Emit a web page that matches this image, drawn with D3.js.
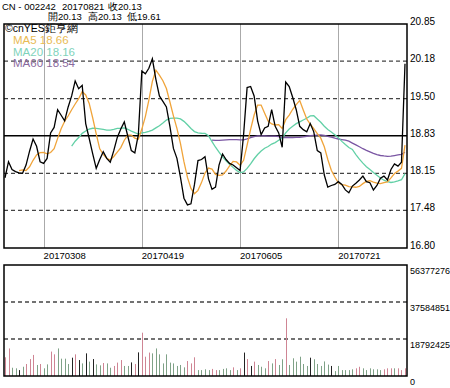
<!DOCTYPE html>
<html>
<head>
<meta charset="utf-8">
<script src="https://cdnjs.cloudflare.com/ajax/libs/d3/7.8.5/d3.min.js"></script>
<style>
body { margin: 0; background: #fff; }
svg { display: block; font-family: Arial, "Liberation Sans", sans-serif; }
</style>
</head>
<body>
<div id="chart"></div>
<script>
// daily closes (115 trading days ending 20170821)
var closes = [
  18.07, 18.36, 18.22, 18.18, 18.16, 18.15, 18.30, 18.55, 18.77, 18.64,
  18.36, 18.33, 18.42, 18.88, 18.98, 19.30, 19.20, 19.10, 19.35, 19.55,
  19.82, 19.68, 19.74, 19.05, 18.78, 18.50, 18.24, 18.40, 18.54, 18.42,
  18.35, 18.56, 18.80, 18.95, 19.08, 18.82, 18.56, 18.52, 18.85, 20.00,
  19.95, 20.05, 20.22, 19.85, 19.55, 19.45, 19.35, 19.00, 18.60, 18.42,
  18.08, 17.70, 17.58, 17.60, 17.95, 18.38, 18.40, 18.45, 18.05, 17.86,
  17.90, 18.30, 18.50, 18.40, 18.33, 18.30, 18.25, 18.20, 18.85, 19.70,
  19.72, 19.55, 19.10, 18.85, 18.97, 19.00, 19.30, 19.00, 18.88, 18.62,
  19.80, 19.72, 19.52, 19.30, 19.00, 18.94, 18.90, 19.05, 18.90, 18.56,
  18.52, 18.12, 17.90, 17.93, 17.95, 18.00, 17.95, 17.85, 17.80, 17.92,
  17.97, 18.03, 18.10, 18.00, 17.98, 17.85, 17.93, 18.06, 18.10, 18.03,
  18.22, 18.32, 18.28, 18.35, 20.13
];

// volume in millions of shares
var volumes = [
  9.5, 14.0, 4.2, 3.9, 3.0, 4.7, 6.1, 8.6, 10.7, 5.6,
  6.1, 3.9, 5.9, 12.4, 11.0, 14.0, 8.8, 8.8, 6.1, 9.3,
  11.0, 8.1, 6.4, 11.5, 7.3, 8.6, 5.9, 5.4, 6.6, 6.4,
  4.2, 5.1, 6.8, 8.1, 5.1, 5.1, 6.9, 6.1, 12.0, 22.0,
  9.8, 11.9, 11.5, 14.0, 11.0, 6.4, 11.0, 6.8, 6.4, 5.1,
  5.6, 4.4, 7.6, 6.4, 9.5, 3.0, 3.0, 3.4, 3.0, 3.6,
  3.0, 3.0, 3.6, 3.9, 3.0, 4.4, 3.0, 3.9, 11.9, 8.6,
  5.1, 7.3, 5.6, 4.7, 3.9, 7.6, 6.4, 8.6, 5.6, 8.5,
  29.3, 5.6, 9.0, 7.3, 9.8, 6.1, 5.1, 9.3, 8.5, 6.1,
  5.1, 7.4, 5.8, 5.1, 2.5, 5.1, 3.0, 3.0, 3.0, 3.4,
  3.9, 4.7, 3.9, 3.0, 3.9, 3.4, 3.4, 3.0, 3.4, 3.9,
  3.9, 3.9, 3.9, 3.0, 3.9
];

// bar colour per day: u = up, d = down, k = flat
var volDir = [
  "uuddkduuud", "udduuddddk", "ukdkdkddud", "duuuddkuku",
  "uudddddddd", "dduuuddddu", "udddduduku", "kudddududd",
  "uddddddkdd", "dddkdddddd", "uudddddduu", "uduuu"
].join("").split("");

var dateLabels = ["20170308", "20170419", "20170605", "20170721"];
var dateIndex = [11, 39, 67, 95];

var priceTicks = [16.80, 17.48, 18.15, 18.83, 19.50, 20.18, 20.85];
var volTicks = [0, 18792425, 37584851, 56377276];

var headerRow1 = ["CN - 002242", "20170821", "收20.13"];
var headerRow2 = ["開20.13", "高20.13", "低19.61"];
var legendLabels = ["MA5 18.66", "MA20 18.16", "MA60 18.54"];
var maPeriods = [5, 20, 60];
var maColors = ["#f0a43a", "#62d0a6", "#7a56a3"];
var legendColors = ["#e9bb55", "#7fd3bb", "#8a6a9e"];

var W = 450, H = 388;
var svg = d3.select("#chart").append("svg")
    .attr("width", W)
    .attr("height", H);

var left = 4, right = 407;
var pTop = 24, pBot = 248;
var vTop = 265, vBot = 376;

var x = d3.scaleLinear().domain([0, closes.length - 1]).range([5, 405]);
var y = d3.scaleLinear().domain([16.80, 20.85]).range([pBot, pTop]);
var yv = d3.scaleLinear().domain([0, 56377276]).range([vBot, vTop]);

function movingAvg(arr, n) {
  return arr.map(function(d, i) {
    return i < n - 1 ? null : d3.mean(arr.slice(i - n + 1, i + 1));
  });
}

// header
var hdr = svg.append("g").attr("font-size", "9.5px").attr("fill", "#000");
[2, 62, 108].forEach(function(px, i) {
  hdr.append("text").attr("x", px).attr("y", 10).text(headerRow1[i]);
});
[48, 88, 127].forEach(function(px, i) {
  hdr.append("text").attr("x", px).attr("y", 20).text(headerRow2[i]);
});

// price panel grid
svg.selectAll(".vgrid").data(dateIndex).enter().append("line")
    .attr("x1", function(d) { return Math.round(x(d)) + 0.5; })
    .attr("x2", function(d) { return Math.round(x(d)) + 0.5; })
    .attr("y1", pTop).attr("y2", pBot)
    .attr("stroke", "#aaa").attr("stroke-width", 1);

svg.selectAll(".hgrid").data(priceTicks.slice(1, -1)).enter().append("line")
    .attr("x1", left).attr("x2", right)
    .attr("y1", function(d) { return y(d); })
    .attr("y2", function(d) { return y(d); })
    .attr("stroke", function(d) { return d === 18.83 ? "#000" : "#444"; })
    .attr("stroke-width", function(d) { return d === 18.83 ? 1.6 : 1.3; })
    .attr("stroke-dasharray", function(d) { return d === 18.83 ? null : "4,3"; });

// moving averages then close
var line = d3.line()
    .defined(function(d) { return d != null; })
    .x(function(d, i) { return x(i); })
    .y(function(d) { return y(d); });

maPeriods.slice().reverse().forEach(function(n, k) {
  var idx = maPeriods.length - 1 - k;
  svg.append("path")
      .datum(movingAvg(closes, n))
      .attr("d", line)
      .attr("fill", "none")
      .attr("stroke", maColors[idx])
      .attr("stroke-width", 1.3);
});

svg.append("path")
    .datum(closes)
    .attr("d", line)
    .attr("fill", "none")
    .attr("stroke", "#000")
    .attr("stroke-width", 1.3);

// legend
svg.append("text").attr("x", 5).attr("y", 32)
    .attr("font-size", "10.5px").text("©cnYES鉅亨網");
legendLabels.forEach(function(t, i) {
  svg.append("text").attr("x", 13).attr("y", 44 + i * 11.5)
      .attr("font-size", "11.5px").attr("fill", legendColors[i]).text(t);
});

// price frame
svg.append("rect").attr("x", left).attr("y", pTop)
    .attr("width", right - left).attr("height", pBot - pTop)
    .attr("fill", "none").attr("stroke", "#000").attr("stroke-width", 1.5);

// right axis labels
svg.selectAll(".plab").data(priceTicks).enter().append("text")
    .attr("x", 410)
    .attr("y", function(d) { return y(d) + 1; })
    .attr("font-size", "10px")
    .text(function(d) { return d.toFixed(2); });

// date labels
svg.selectAll(".dlab").data(dateIndex).enter().append("text")
    .attr("x", function(d) { return x(d); })
    .attr("y", 259)
    .attr("font-size", "9.5px")
    .text(function(d, i) { return dateLabels[i]; });

// volume panel
svg.selectAll(".vhgrid").data(volTicks.slice(1, -1)).enter().append("line")
    .attr("x1", left).attr("x2", right)
    .attr("y1", function(d) { return yv(d); })
    .attr("y2", function(d) { return yv(d); })
    .attr("stroke", "#444").attr("stroke-width", 1.3)
    .attr("stroke-dasharray", "4,3");

var barColor = { u: "#cf8594", d: "#7fa287", k: "#222" };
svg.selectAll(".vbar").data(volumes).enter().append("rect")
    .attr("x", function(d, i) { return Math.round(x(i)); })
    .attr("y", function(d) { return yv(d * 1e6); })
    .attr("width", 1)
    .attr("height", function(d) { return vBot - yv(d * 1e6); })
    .attr("fill", function(d, i) { return barColor[volDir[i]]; });

svg.append("rect").attr("x", left).attr("y", vTop)
    .attr("width", right - left).attr("height", vBot - vTop)
    .attr("fill", "none").attr("stroke", "#000").attr("stroke-width", 1.5);

svg.selectAll(".vlab").data(volTicks).enter().append("text")
    .attr("x", 410)
    .attr("y", function(d) { return yv(d) + 9; })
    .attr("font-size", "9px")
    .text(function(d) { return d; });
</script>
</body>
</html>
